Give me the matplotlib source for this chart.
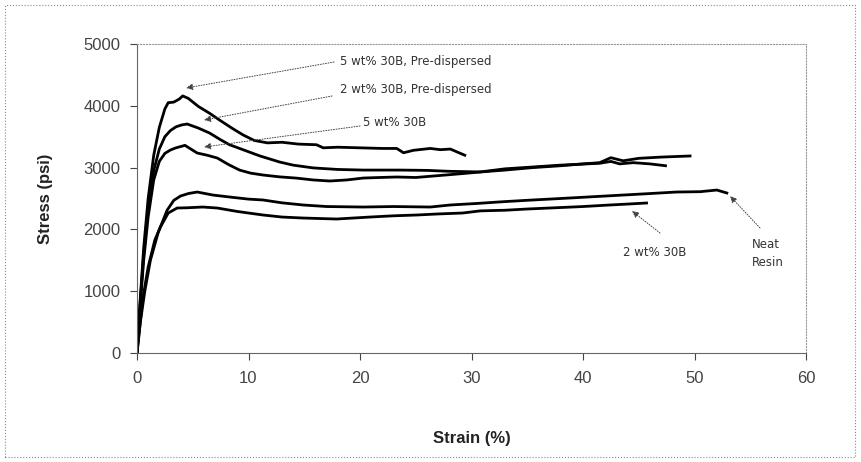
import matplotlib
matplotlib.use("Agg")
import matplotlib.pyplot as plt
from matplotlib.patches import Rectangle

# ---- data ----
xA = [0, 0.3, 0.6, 1.0, 1.5, 2.0, 2.5, 2.8, 3.3, 3.8, 4.1, 4.6, 5.5, 6.5, 7.4, 8.5, 9.5, 10.5, 11.7, 13.0, 14.5, 16.1, 16.7, 18, 20, 22, 23.3, 23.9, 24.8, 26.3, 27.2, 28.1, 29.4]
yA = [0, 900, 1700, 2500, 3200, 3650, 3950, 4050, 4060, 4110, 4160, 4120, 3990, 3880, 3770, 3640, 3530, 3440, 3400, 3410, 3380, 3370, 3320, 3330, 3320, 3310, 3310, 3240, 3280, 3310, 3290, 3300, 3200]

xB = [0, 0.3, 0.6, 1.0, 1.5, 2.0, 2.5, 3.0, 3.5, 4.0, 4.5, 5.5, 6.5, 7.5, 8.3, 9.5, 11, 12.8, 14, 15.8, 18, 20.3, 23.6, 26, 28, 30.8, 33, 35.5, 38, 41.5, 42.5, 43.3, 44.5, 46, 47.4]
yB = [0, 850, 1600, 2350, 2950, 3300, 3500, 3600, 3660, 3690, 3705, 3640, 3560, 3450, 3370, 3290, 3190, 3090, 3040, 2995, 2970, 2960, 2960, 2955, 2940, 2930, 2980, 3010, 3040, 3070, 3100, 3060, 3080, 3060, 3030]

xC = [0, 0.3, 0.6, 1.0, 1.5, 2.0, 2.5, 3.0, 3.5, 4.3, 5.4, 6.3, 7.2, 8.2, 9.2, 10.2, 11.3, 12.8, 14.3, 15.8, 17.3, 18.8, 20.3, 21.8, 23.3, 25, 27, 29, 30.8, 33, 35.5, 38, 40, 41.5, 42.5, 43.6, 45, 47, 49.6]
yC = [0, 800, 1500, 2200, 2800, 3100, 3230, 3285, 3320, 3360, 3236, 3200, 3155, 3050, 2960, 2910, 2880, 2850, 2830, 2800, 2783, 2800, 2831, 2840, 2848, 2840, 2870, 2900, 2929, 2960, 3000, 3030, 3060, 3080, 3160, 3110, 3150, 3170, 3188]

xD = [0, 0.3, 0.7, 1.2, 1.9, 2.7, 3.3, 3.9, 4.6, 5.4, 6.8, 8.5, 10, 11.3, 13, 14.9, 17, 20.3, 23, 26.3, 28.1, 30.5, 33, 35.5, 38, 40, 43.6, 46, 48.4, 50.5, 52.0, 52.9]
yD = [0, 500, 1000, 1500, 1950, 2310, 2470, 2540, 2580, 2605, 2556, 2520, 2490, 2476, 2430, 2395, 2370, 2362, 2370, 2362, 2395, 2420, 2450, 2476, 2500, 2520, 2556, 2580, 2605, 2610, 2637, 2589]

xE = [0, 0.5, 1.0, 1.6, 2.1, 2.8, 3.6, 4.5, 5.9, 7.2, 9, 11.3, 13, 14.9, 17.9, 20.9, 23, 25.1, 27, 29.2, 30.8, 33, 35, 37, 40, 42.4, 44, 45.7]
yE = [0, 858, 1392, 1828, 2039, 2265, 2346, 2350, 2362, 2346, 2290, 2233, 2200, 2184, 2168, 2200, 2220, 2233, 2250, 2265, 2300, 2310, 2330, 2346, 2370, 2395, 2410, 2427]

x_ticks = [0, 10, 20, 30, 40, 50, 60]
y_ticks = [0, 1000, 2000, 3000, 4000, 5000]

labels = ["5 wt% 30B, Pre-dispersed", "2 wt% 30B, Pre-dispersed", "5 wt% 30B", "2 wt% 30B", "Neat\nResin"]

plt.rcParams['font.family'] = ['Liberation Sans', 'DejaVu Sans']

fig = plt.figure(figsize=(8.61, 4.62), dpi=100)
ax = fig.add_axes([137/861, 1-353/462, (806-137)/861, (353-44)/462])

for xs, ys in [(xA, yA), (xB, yB), (xC, yC), (xD, yD), (xE, yE)]:
    ax.plot(xs, ys, color='black', lw=2.0, solid_joinstyle='round')

ax.set_xlim(0, 60)
ax.set_ylim(0, 5000)
ax.set_xticks(x_ticks)
ax.set_yticks(y_ticks)
ax.tick_params(axis='both', labelsize=12, colors='#444444', direction='out', length=5, width=0.8)
ax.tick_params(axis='y', pad=7)
ax.tick_params(axis='x', pad=8)

for s in ['top', 'right']:
    ax.spines[s].set_linestyle(':')
    ax.spines[s].set_color('#999999')
    ax.spines[s].set_linewidth(0.8)
for s in ['left', 'bottom']:
    ax.spines[s].set_color('#666666')
    ax.spines[s].set_linewidth(0.8)

ax.set_xlabel("Strain (%)", fontsize=12, fontweight='bold', labelpad=32, color='#222222')
ax.set_ylabel("Stress (psi)", fontsize=12, fontweight='bold', labelpad=22, color='#222222')

# annotations: (text, text pos, arrow start, arrow tip) in pixel-like coords converted to data
def px2d(px, py):
    return ((px - 137) / 669 * 60, (353 - py) / 309 * 5000)

ann = [
    (labels[0], (340, 62), (334, 62), (186, 88), 'left'),
    (labels[1], (340, 90), (332, 96), (204, 120), 'left'),
    (labels[2], (363, 122), (360, 126), (204, 147), 'left'),
    (labels[3], (655, 253), (660, 233), (632, 211), 'center'),
    (labels[4], (752, 253), (760, 228), (730, 196), 'left'),
]
for text, tpos, astart, tip, ha in ann:
    ax.text(*px2d(*tpos), text, fontsize=8.5, family='DejaVu Sans', color='#333333',
            ha=ha, va='center', linespacing=1.5)
    ax.annotate('', xy=px2d(*tip), xytext=px2d(*astart),
                arrowprops=dict(arrowstyle='-|>', color='#444444', lw=0.7, linestyle=':',
                                mutation_scale=10, shrinkA=0, shrinkB=0))

fig.patches.append(Rectangle((5/861, 5/462), 850/861, 452/462, transform=fig.transFigure,
                             fill=False, edgecolor='#888888', linestyle=':', lw=0.8))

fig.savefig("out.png", dpi=100)
